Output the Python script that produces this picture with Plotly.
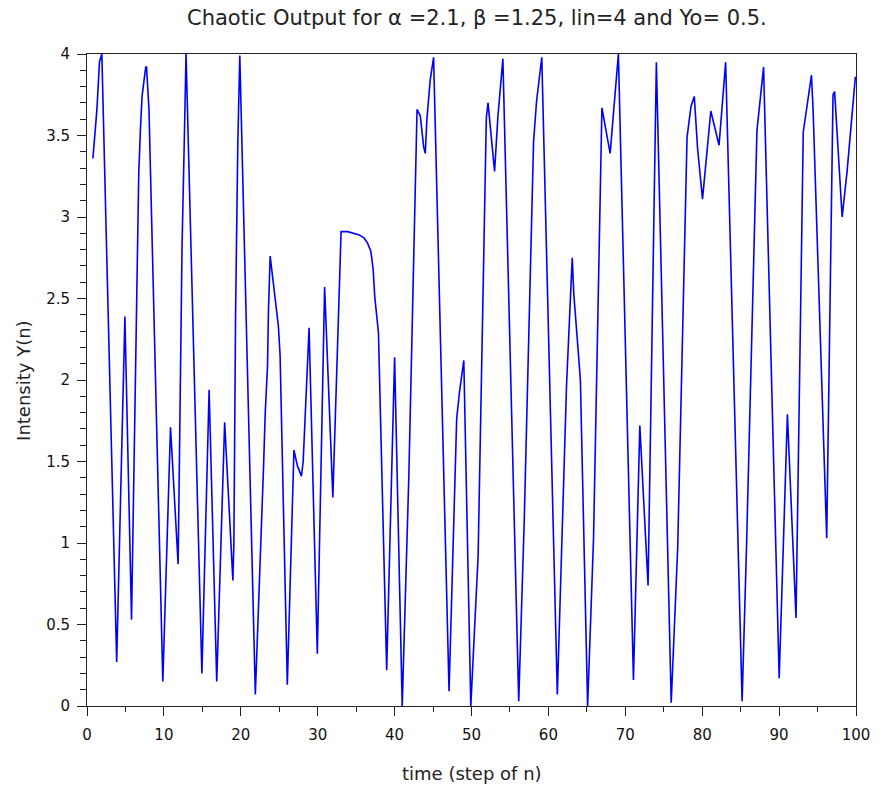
import plotly.graph_objects as go

# time steps (n) at the turning points of the trace
n_steps = [
    0.77, 1.07, 1.29, 1.62, 1.93, 3.86, 4.93, 5.79, 6.73, 6.95,
    7.16, 7.42, 7.64, 7.74, 8.06, 9.86, 10.86, 11.85, 12.36, 12.66,
    12.88, 14.94, 15.88, 16.87, 17.9, 18.97, 19.1, 19.32, 19.61, 19.87,
    21.89, 22.96, 23.18, 23.47, 23.6, 23.82, 24.89, 25.11, 26.05, 26.91,
    27.38, 27.89, 28.11, 28.88, 29.95, 30.9, 31.97, 33.04, 33.9, 35.41,
    36.05, 36.48, 36.91, 37.21, 37.42, 37.9, 38.97, 40.0, 40.99, 41.85,
    42.92, 43.34, 43.78, 43.99, 44.2, 44.63, 45.07, 47.08, 48.07, 48.42,
    49.0, 49.91, 50.86, 51.93, 52.15, 53.0, 53.44, 54.08, 56.14, 56.86,
    57.86, 58.07, 58.46, 59.14, 61.16, 62.36, 63.1, 63.3, 63.95, 64.16,
    65.1, 65.87, 66.96, 68.03, 69.1, 71.06, 71.89, 72.96, 74.04, 75.97,
    76.82, 78.03, 78.55, 78.97, 79.4, 80.04, 81.12, 82.19, 83.05, 85.19,
    85.76, 86.92, 87.12, 87.98, 90.01, 91.08, 92.2, 93.14, 94.21, 94.42,
    96.19, 97.01, 97.22, 98.2, 98.84, 99.92,
]

# intensity Y(n) at those steps
intensity = [
    3.36, 3.52, 3.66, 3.95, 4.0, 0.27, 2.39, 0.53, 3.27, 3.54,
    3.74, 3.84, 3.92, 3.92, 3.66, 0.15, 1.71, 0.87, 2.82, 3.49,
    4.0, 0.2, 1.94, 0.15, 1.74, 0.77, 1.0, 2.4, 3.45, 3.99,
    0.07, 1.47, 1.8, 2.08, 2.43, 2.76, 2.33, 2.15, 0.13, 1.57,
    1.47, 1.41, 1.5, 2.32, 0.32, 2.57, 1.28, 2.91, 2.91, 2.89,
    2.87, 2.84, 2.79, 2.68, 2.51, 2.29, 0.22, 2.14, 0.0, 1.41,
    3.66, 3.62, 3.43, 3.39, 3.6, 3.84, 3.98, 0.09, 1.76, 1.92,
    2.12, 0.0, 0.92, 3.61, 3.7, 3.28, 3.62, 3.97, 0.03, 1.14,
    3.11, 3.46, 3.71, 3.98, 0.07, 1.97, 2.75, 2.53, 2.13, 2.0,
    0.0, 1.03, 3.67, 3.39, 4.0, 0.16, 1.72, 0.74, 3.95, 0.02,
    0.98, 3.49, 3.68, 3.74, 3.42, 3.11, 3.65, 3.44, 3.95, 0.03,
    0.97, 3.32, 3.53, 3.92, 0.17, 1.79, 0.54, 3.52, 3.87, 3.66,
    1.03, 3.75, 3.77, 3.0, 3.28, 3.86,
]

title_text = "Chaotic Output for α =2.1, β =1.25, lin=4 and Yo= 0.5."
x_title = "time (step of n)"
y_title = "Intensity Y(n)"

FONT = "DejaVu Sans"

fig = go.Figure()
fig.add_trace(go.Scatter(
    x=n_steps, y=intensity, mode="lines",
    line=dict(color="#0000ff", width=1.6),
    hoverinfo="skip", showlegend=False,
))

axis_common = dict(
    showline=True, linecolor="#222222", linewidth=1, mirror=True,
    showgrid=False, zeroline=False,
    ticks="outside", tickcolor="#222222", tickwidth=1, ticklen=9,
    tickfont=dict(family=FONT, size=15, color="#111111"),
)

fig.update_layout(
    width=882, height=787,
    paper_bgcolor="white", plot_bgcolor="white",
    margin=dict(l=87, r=19, t=54, b=81),
    title=dict(text=title_text, font=dict(family=FONT, size=21, color="#222222"),
               x=0.507, xref="paper", xanchor="center",
               y=1 - 18 / 787, yref="container", yanchor="middle"),
    xaxis=dict(range=[0, 100], dtick=10, tick0=0,
               minor=dict(dtick=5, ticklen=5, ticks="outside", tickcolor="#222222"),
               ticklabelstandoff=6, **axis_common),
    yaxis=dict(range=[0, 4], dtick=0.5, tick0=0,
               minor=dict(dtick=0.1, ticklen=6, ticks="outside", tickcolor="#222222"),
               ticklabelstandoff=4, **axis_common),
    annotations=[
        dict(text=x_title, xref="paper", yref="paper", x=0.5, y=-(773 - 706) / 652,
             xanchor="center", yanchor="middle", showarrow=False,
             font=dict(family=FONT, size=18, color="#222222")),
        dict(text=y_title, xref="paper", yref="paper", x=(22 - 86.7) / 776.6, y=0.5,
             xanchor="center", yanchor="middle", showarrow=False, textangle=-90,
             font=dict(family=FONT, size=18, color="#222222")),
    ],
)

fig.write_html(
    "out.html",
    config={"displayModeBar": False},
    post_script="document.body.style.margin='0';document.body.style.overflow='hidden';",
)
